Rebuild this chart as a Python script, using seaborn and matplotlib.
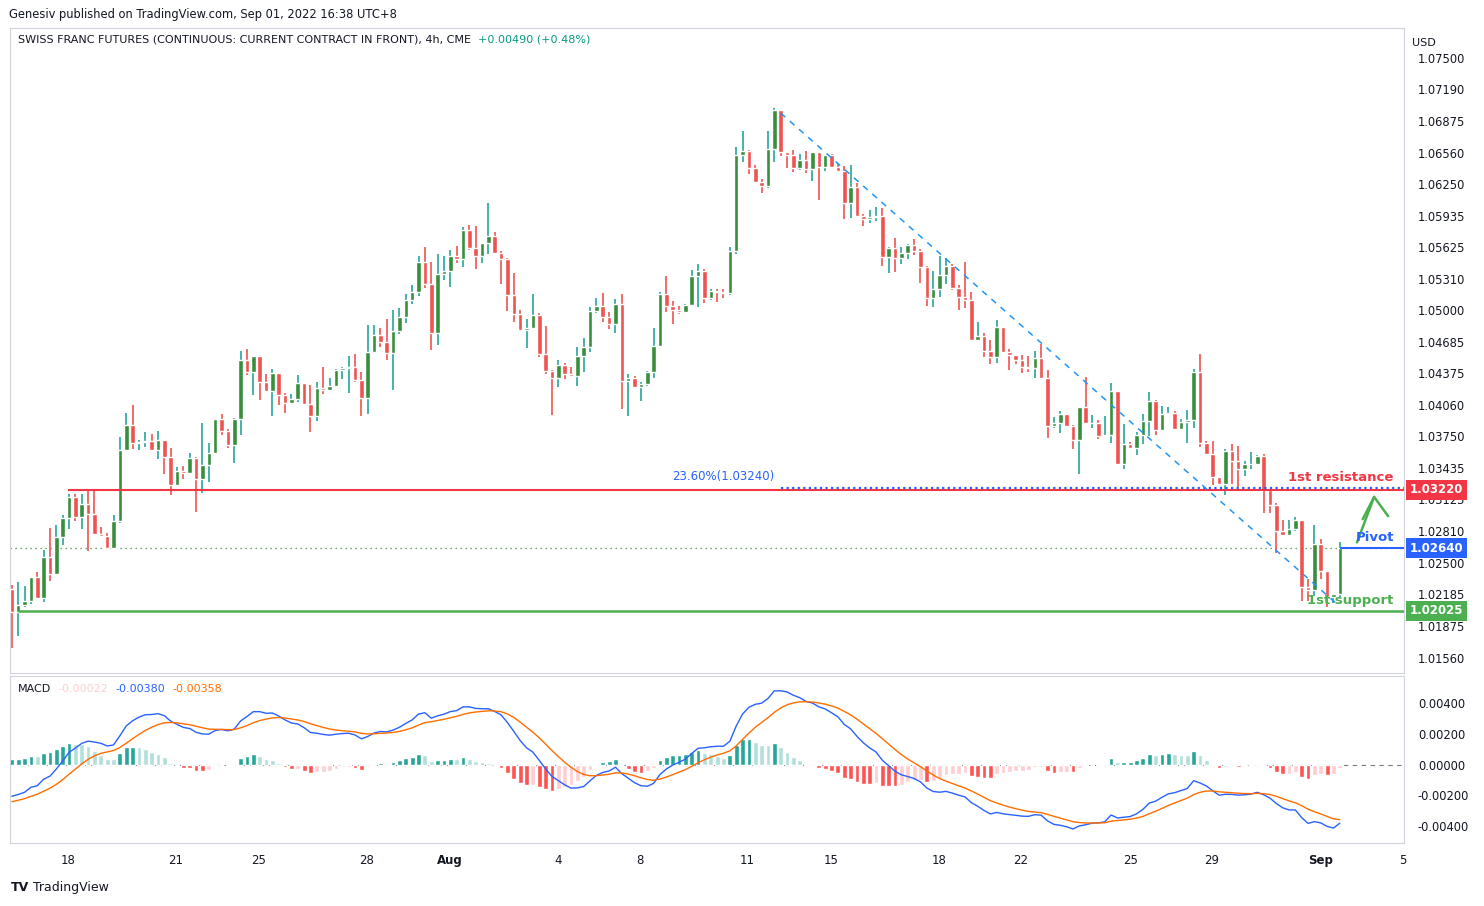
import numpy as np
import matplotlib
matplotlib.use("Agg")
import matplotlib.pyplot as plt
import seaborn as sns

# ---------- data (prices in 1/100000 CHF-futures units) ----------
first_open = 102239
close_pts = [
    102011, 102080, 102120, 102358, 102150, 102556, 102387, 102754, 102942, 103150,
    102952, 103080, 102981, 102783, 102764, 102645, 102912, 103615, 103862, 103684,
    103694, 103704, 103615, 103714, 103546, 103268, 103407, 103387, 103536, 103328,
    103466, 103585, 103921, 103802, 103664, 103921, 104506, 104387, 104546, 104288,
    104199, 104377, 104160, 104080, 104120, 104278, 104070, 103952, 104229, 104209,
    104249, 104407, 104427, 104437, 104308, 104130, 104585, 104754, 104684, 104575,
    104793, 104932, 105100, 105179, 105476, 105258, 104773, 105357, 105387, 105536,
    105506, 105793, 105615, 105536, 105664, 105734, 105565, 105506, 105150, 104961,
    104803, 104823, 104952, 104565, 104397, 104328, 104456, 104367, 104348, 104546,
    104635, 104991, 105041, 104932, 104862, 105060, 104298, 104328, 104239, 104268,
    104387, 104645, 105159, 105041, 105001, 104981, 105050, 105338, 105387, 105120,
    105189, 105179, 105169, 105585, 106536, 106575, 106407, 106268, 106229, 106595,
    106981, 106565, 106536, 106407, 106486, 106397, 106565, 106417, 106536, 106417,
    106377, 106060, 106219, 105932, 105902, 105922, 105932, 105526, 105615, 105516,
    105565, 105645, 105585, 105427, 105120, 105209, 105348, 105437, 105219, 105130,
    105100, 104704, 104744, 104595, 104536, 104833, 104585, 104556, 104506, 104437,
    104427, 104526, 104328, 103853, 103882, 103971, 103853, 103714, 104041, 103882,
    103882, 103754, 103764, 104199, 103476, 103674, 103635, 103764, 103902, 104100,
    103813, 103971, 103981, 103823, 103892, 103912, 104387, 103684, 103575, 103348,
    103278, 103605, 103506, 103427, 103476, 103476, 103556, 103219, 103070, 102813,
    102773, 102833, 102922, 102259, 102229, 102684, 102417, 102160, 102189, 102640,
]
high_pts = [
    102279, 102308, 102269, 102358, 102407, 102625, 102843, 102873, 102972, 103179,
    103179, 103179, 103219, 103219, 102853, 102793, 102972, 103744, 103981, 104061,
    103714, 103793, 103774, 103803, 103714, 103635, 103447, 103457, 103585, 103546,
    103882, 103684, 103921, 103971, 103823, 103932, 104595, 104615, 104546, 104546,
    104367, 104417, 104377, 104179, 104169, 104358, 104278, 104259, 104288, 104437,
    104328, 104417, 104437, 104546, 104565, 104387, 104853, 104853, 104823, 104912,
    105001, 105021, 105159, 105249, 105536, 105625, 105476, 105555, 105536, 105595,
    105635, 105823, 105843, 105833, 105664, 106060, 105773, 105585, 105516, 105367,
    105001, 104912, 105159, 104971, 104843, 104407, 104506, 104476, 104437, 104635,
    104724, 105031, 105120, 105169, 104981, 105110, 105159, 104367, 104348, 104288,
    104397, 104823, 105179, 105338, 105090, 105041, 105060, 105397, 105456, 105407,
    105209, 105209, 105209, 105625, 106615, 106773, 106585, 106437, 106298, 106773,
    107001, 106981, 106555, 106585, 106545, 106575, 106555, 106545, 106536, 106545,
    106446, 106427, 106437, 106258, 105951, 105991, 106021, 106011, 105625, 105714,
    105625, 105654, 105704, 105605, 105437, 105387, 105536, 105516, 105456, 105249,
    105476, 105179, 104882, 104773, 104704, 104902, 104833, 104615, 104556, 104556,
    104546, 104595, 104664, 104407, 103942, 104001, 103971, 103863, 104041, 104338,
    103962, 103912, 103952, 104278, 104199, 103872, 103694, 103793, 103971, 104189,
    104110, 104051, 104041, 104001, 103922, 104011, 104417, 104565, 103704, 103704,
    103348, 103625, 103674, 103655, 103506, 103595, 103565, 103575, 103219, 103090,
    102922, 102922, 102952, 102922, 102338, 102873, 102734, 102417, 102189, 102704,
]
low_pts = [
    101655, 101774, 102061, 102090, 102140, 102110, 102318, 102378, 102674, 102833,
    102912, 102833, 102615, 102783, 102754, 102635, 102655, 102893, 103615, 103625,
    103615, 103645, 103605, 103526, 103377, 103169, 103259, 103328, 103377, 103002,
    103189, 103298, 103575, 103763, 103635, 103486, 103763, 104358, 104160, 104110,
    104189, 103952, 104061, 103981, 104080, 104090, 104061, 103793, 103902, 104169,
    104219, 104249, 104318, 104179, 104288, 103952, 103971, 104575, 104635, 104506,
    104209, 104764, 104872, 105060, 105140, 105219, 104605, 104655, 105298, 105229,
    105466, 105427, 105595, 105407, 105466, 105555, 105565, 105258, 104991, 104882,
    104793, 104625, 104813, 104536, 104367, 103962, 104239, 104318, 104348, 104249,
    104387, 104585, 104971, 104882, 104813, 104773, 104021, 103952, 104239, 104100,
    104249, 104328, 104635, 104981, 104862, 104961, 104981, 105041, 105031, 105070,
    105100, 105080, 105120, 105150, 105555, 106466, 106347, 106268, 106159, 106209,
    106466, 106526, 106407, 106367, 106387, 106357, 106278, 106090, 106377, 106407,
    106367, 105902, 105912, 105932, 105833, 105863, 105882, 105437, 105367, 105377,
    105456, 105506, 105546, 105268, 105041, 105031, 105130, 105258, 105199, 105001,
    105021, 104704, 104704, 104536, 104466, 104476, 104585, 104407, 104466, 104377,
    104387, 104328, 104328, 103734, 103833, 103783, 103853, 103625, 103377, 103882,
    103833, 103724, 103764, 103684, 103467, 103427, 103635, 103565, 103674, 103754,
    103764, 103813, 103971, 103813, 103823, 103684, 103833, 103645, 103575, 103268,
    103278, 103169, 103278, 103249, 103358, 103427, 103467, 102991, 102991, 102595,
    102764, 102773, 102813, 102120, 102120, 102169, 102338, 102061, 102100, 102160,
]

date_ticks = [8.8, 25.8, 38.9, 55.9, 68.9, 85.9, 98.8, 115.8, 128.9, 145.9, 158.8, 176.0, 188.9, 205.9, 218.9]
date_labels = ["18", "21", "25", "28", "Aug", "4", "8", "11", "15", "18", "22", "25", "29", "Sep", "5"]
price_ticks = [1.07500, 1.07190, 1.06875, 1.06560, 1.06250, 1.05935, 1.05625, 1.05310, 1.05000, 1.04685,
               1.04375, 1.04060, 1.03750, 1.03435, 1.03125, 1.02810, 1.02500, 1.02185, 1.01875, 1.01560]
macd_ticks = [0.004, 0.002, 0.0, -0.002, -0.004]
macd_legend = ["-0.00022", "-0.00380", "-0.00358"]

resistance = 1.03220
pivot = 1.02640
support = 1.02025
fib_level = 1.03240
trend_start = (121, 1.06951)
trend_end = (208.7, 1.02081)
# EMA seeds for the MACD warm-up (state before first bar)
ema_fast_seed, ema_slow_seed, signal_seed = 1.0215, 1.0236, -0.0025

# ---------- prep ----------
close = np.array(close_pts) / 1e5
high = np.array(high_pts) / 1e5
low = np.array(low_pts) / 1e5
opn = np.concatenate([[first_open / 1e5], close[:-1]])
n = len(close)
idx = np.arange(n)

def ema(series, span, seed):
    a = 2 / (span + 1)
    out, prev = [], seed
    for v in series:
        prev = a * v + (1 - a) * prev
        out.append(prev)
    return np.array(out)

macd = ema(close, 12, ema_fast_seed) - ema(close, 26, ema_slow_seed)
signal = ema(macd, 9, signal_seed)
hist = macd - signal

UP, UPW, DN = "#388e3c", "#26a69a", "#ef5350"
TXT = "#131722"

sns.set_theme(style="white")
plt.rcParams["font.family"] = "DejaVu Sans"
fig = plt.figure(figsize=(14.84, 9.06), dpi=100)
ax = fig.add_axes([0.0067, 0.2572, 0.9394, 0.7119])
axm = fig.add_axes([0.0067, 0.0695, 0.9394, 0.1843], sharex=ax)

# ---------- candles ----------
up = close >= opn
ax.vlines(idx[up], low[up], high[up], color=UPW, lw=1.2, zorder=2)
ax.vlines(idx[~up], low[~up], high[~up], color=DN, lw=1.2, zorder=2)
body_lo = np.minimum(opn, close)
body_h = np.maximum(np.abs(close - opn), 0.00003)
ax.bar(idx, body_h, bottom=body_lo, width=0.72, color=np.where(up, UP, DN), zorder=3)

xmin, xmax = -0.3, 219.1
ax.set_xlim(xmin, xmax)
ax.set_ylim(1.01407, 1.07793)

# levels
ax.axhline(pivot, color="#388e3c", lw=0.9, ls=(0, (1, 3)), zorder=1)
ax.hlines(resistance, 8.9, xmax, color="#f23645", lw=1.5, zorder=4)
ax.hlines(support, 1.0, xmax, color="#4caf50", lw=1.8, zorder=4)
ax.hlines(pivot, 209, xmax, color="#2962ff", lw=1.5, zorder=4)
ax.hlines(fib_level, 121, xmax, color="#2962ff", lw=1.6, ls=(0, (1, 1.5)), zorder=4)
ax.plot([trend_start[0], trend_end[0]], [trend_start[1], trend_end[1]],
        color="#2196f3", lw=1.1, ls=(0, (4, 4)), zorder=4)
ax.text(120, fib_level + 0.0005, "23.60%(1.03240)", color="#2962ff", fontsize=8.5, ha="right", va="bottom")
ax.text(217.5, resistance + 0.0006, "1st resistance", color="#f23645", fontsize=9.5,
        fontweight="bold", ha="right", va="bottom")
ax.text(217.5, pivot + 0.0004, "Pivot", color="#2962ff", fontsize=9.5, fontweight="bold", ha="right", va="bottom")
ax.text(217.5, support + 0.0004, "1st support", color="#4caf50", fontsize=9.5,
        fontweight="bold", ha="right", va="bottom")
ax.plot([211.7, 214.4], [1.02700, 1.03150], color="#4caf50", lw=1.8)
ax.plot([212.6, 214.4, 216.6], [1.02930, 1.03150, 1.02960], color="#4caf50", lw=1.8)

# ---------- MACD ----------
hcol = []
for i, h in enumerate(hist):
    prev = hist[i - 1] if i else h
    if h >= 0:
        hcol.append("#26a69a" if h >= prev else "#b2dfdb")
    else:
        hcol.append("#ff5252" if h < prev else "#ffcdd2")
axm.bar(idx, hist, width=0.75, color=hcol, zorder=2)
sns.lineplot(x=idx, y=macd, ax=axm, color="#2962ff", lw=1.0, zorder=3)
sns.lineplot(x=idx, y=signal, ax=axm, color="#ff6d00", lw=1.0, zorder=3)
axm.axhline(0, color="#787b86", lw=0.8, ls=(0, (4, 4)), zorder=1)
axm.set_ylim(-0.0051, 0.00576)

# ---------- axes styling ----------
for a in (ax, axm):
    a.yaxis.tick_right()
    a.tick_params(axis="y", length=0, labelsize=8.3, colors=TXT, pad=10)
    for s in a.spines.values():
        s.set_color("#d1d4dc")
        s.set_linewidth(0.8)
    a.grid(False)
ax.set_yticks(price_ticks)
ax.set_yticklabels([f"{v:.5f}" for v in price_ticks])
axm.set_yticks(macd_ticks)
axm.set_yticklabels([f"{v:.5f}" for v in macd_ticks])
ax.tick_params(axis="x", bottom=False, labelbottom=False)
axm.set_xticks(date_ticks)
axm.set_xticklabels(date_labels)
axm.tick_params(axis="x", length=0, labelsize=8.5, colors=TXT, pad=8)
for lbl in axm.get_xticklabels():
    if lbl.get_text() in ("Aug", "Sep"):
        lbl.set_fontweight("bold")

# price badges on the right scale
for val, col in ((resistance, "#f23645"), (pivot, "#2962ff"), (support, "#4caf50")):
    ax.text(1.004, val, f"{val:.5f}", transform=ax.get_yaxis_transform(), ha="left", va="center",
            fontsize=8.5, fontweight="bold", color="white",
            bbox=dict(boxstyle="square,pad=0.3", fc=col, ec="none"), zorder=10, clip_on=False)
ax.text(1.006, 0.985, "USD", transform=ax.transAxes, fontsize=8, color=TXT, va="top")

# headers
t = ax.text(0.006, 0.99, "SWISS FRANC FUTURES (CONTINUOUS: CURRENT CONTRACT IN FRONT), 4h, CME",
            transform=ax.transAxes, fontsize=8, color=TXT, va="top")
ax.annotate("+0.00490 (+0.48%)", xy=(1, 0), xycoords=t, xytext=(5, 0), textcoords="offset points",
            fontsize=8, color="#089981", va="bottom")
m = axm.text(0.006, 0.95, "MACD", transform=axm.transAxes, fontsize=8, color=TXT, va="top")
for txt, col in zip(macd_legend, ["#ffcdd2", "#2962ff", "#ff6d00"]):
    m = axm.annotate(txt, xy=(1, 0), xycoords=m, xytext=(5, 0), textcoords="offset points",
                     fontsize=8, color=col, va="bottom")

fig.text(0.006, 0.984, "Genesiv published on TradingView.com, Sep 01, 2022 16:38 UTC+8",
         fontsize=8.3, color=TXT, va="center")
fig.text(0.007, 0.02, "TV", fontsize=9, fontweight="bold", color=TXT, va="center")
fig.text(0.022, 0.02, "TradingView", fontsize=9, color=TXT, va="center")

fig.savefig("out.png", dpi=100)
